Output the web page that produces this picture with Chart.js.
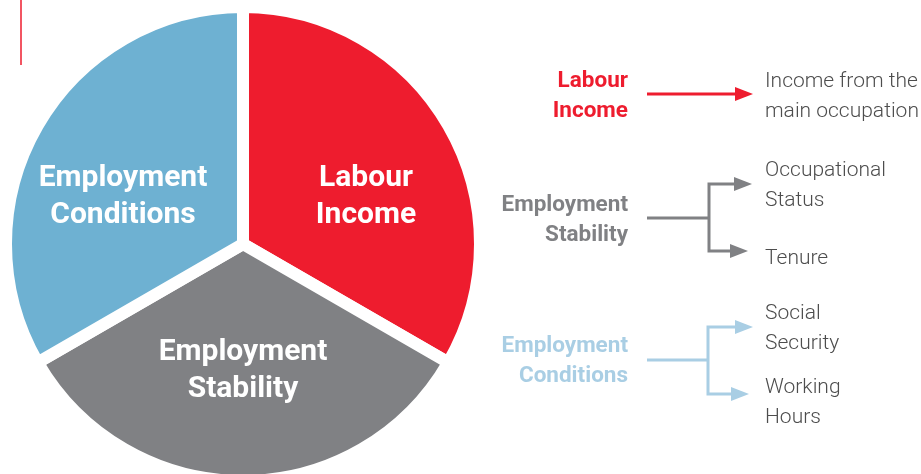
<!DOCTYPE html>
<html>
<head>
<meta charset="utf-8">
<script src="https://cdn.jsdelivr.net/npm/chart.js@4.4.1/dist/chart.umd.min.js"></script>
<style>
  html, body { margin: 0; padding: 0; background: #fff; }
  #wrap { width: 921px; height: 474px; position: relative; }
</style>
</head>
<body>
<div id="wrap"><canvas id="chart" width="921" height="474"></canvas></div>
<script>
// three equal dimensions of job quality
const categories = ['Labour Income', 'Employment Stability', 'Employment Conditions'];
const shares = [1, 1, 1];
const categoryLines = [['Labour', 'Income'], ['Employment', 'Stability'], ['Employment', 'Conditions']];
// indicators for each dimension, one entry per arrow, split into text lines
const indicators = [
    [['Income from the', 'main occupation']],
    [['Occupational', 'Status'], ['Tenure']],
    [['Social', 'Security'], ['Working', 'Hours']]
];

const sliceColors = ['#EE1C2E', '#808184', '#6EB1D2'];
const labelColors = ['#EE1C2E', '#808184', '#A9CEE4'];

// hand placed positions of the diagram on the right
const diagram = {
    labelRight: 628,
    stemStart: 647,
    textLeft: 765,
    groups: [
        { labelBase: 87, stemY: 94, arrows: [{ y: 94, tip: 753, text: 87 }] },
        { labelBase: 211, stemY: 218, branchX: 709,
          arrows: [{ y: 184, tip: 752, text: 176 }, { y: 251, tip: 748, text: 264 }] },
        { labelBase: 352, stemY: 360, branchX: 708,
          arrows: [{ y: 327, tip: 753, text: 319 }, { y: 394, tip: 749, text: 393 }] }
    ]
};
// slice label anchors relative to the pie centre
const sliceLabelOffsets = [{ x: 123, y: -50 }, { x: 0, y: 124 }, { x: -120, y: -50 }];

function arrowHead(ctx, tipX, y, color) {
    ctx.fillStyle = color;
    ctx.beginPath();
    ctx.moveTo(tipX, y);
    ctx.lineTo(tipX - 18, y - 7);
    ctx.lineTo(tipX - 18, y + 7);
    ctx.closePath();
    ctx.fill();
}

const labelsPlugin = {
    id: 'diagramLabels',
    afterDraw(chart) {
        const ctx = chart.ctx;
        const arcs = chart.getDatasetMeta(0).data;
        ctx.save();

        // names inside the slices
        ctx.fillStyle = '#fff';
        ctx.font = 'bold 30px Roboto';
        ctx.textAlign = 'center';
        ctx.textBaseline = 'alphabetic';
        arcs.forEach((arc, i) => {
            const off = sliceLabelOffsets[i];
            const x = arc.x + off.x;
            const y = arc.y + off.y;
            ctx.fillText(categoryLines[i][0], x, y - 8);
            ctx.fillText(categoryLines[i][1], x, y + 29);
        });

        // little red mark top left
        ctx.strokeStyle = '#EE1C2E';
        ctx.lineWidth = 1.5;
        ctx.beginPath();
        ctx.moveTo(21, 0);
        ctx.lineTo(21, 65);
        ctx.stroke();

        // right hand diagram
        diagram.groups.forEach((g, i) => {
            const col = labelColors[i];
            ctx.fillStyle = col;
            ctx.font = 'bold 22.5px Roboto';
            ctx.textAlign = 'right';
            ctx.fillText(categoryLines[i][0], diagram.labelRight, g.labelBase);
            ctx.fillText(categoryLines[i][1], diagram.labelRight, g.labelBase + 30);

            ctx.strokeStyle = col;
            ctx.lineWidth = 3;
            ctx.lineCap = 'butt';
            ctx.beginPath();
            if (g.arrows.length === 1) {
                ctx.moveTo(diagram.stemStart, g.stemY);
                ctx.lineTo(g.arrows[0].tip - 16, g.stemY);
            } else {
                const a = g.arrows[0], b = g.arrows[1];
                ctx.moveTo(diagram.stemStart, g.stemY);
                ctx.lineTo(g.branchX, g.stemY);
                ctx.moveTo(a.tip - 16, a.y);
                ctx.lineTo(g.branchX, a.y);
                ctx.lineTo(g.branchX, b.y);
                ctx.lineTo(b.tip - 16, b.y);
            }
            ctx.stroke();
            g.arrows.forEach(a => arrowHead(ctx, a.tip, a.y, col));

            ctx.fillStyle = '#4D4D4D';
            ctx.font = '300 21px Roboto';
            ctx.textAlign = 'left';
            g.arrows.forEach((a, j) => {
                indicators[i][j].forEach((line, k) => {
                    ctx.fillText(line, diagram.textLeft, a.text + k * 30);
                });
            });
        });
        ctx.restore();
    }
};

new Chart(document.getElementById('chart'), {
    type: 'pie',
    data: {
        labels: categories,
        datasets: [{
            data: shares,
            backgroundColor: sliceColors,
            borderColor: '#fff',
            borderWidth: 12,
            radius: 237,
            clip: false
        }]
    },
    options: {
        responsive: false,
        animation: false,
        devicePixelRatio: 1,
        layout: { padding: { left: 11, right: 446, top: 14, bottom: 0 } },
        plugins: {
            legend: { display: false },
            tooltip: { enabled: false }
        }
    },
    plugins: [labelsPlugin]
});
</script>
</body>
</html>
